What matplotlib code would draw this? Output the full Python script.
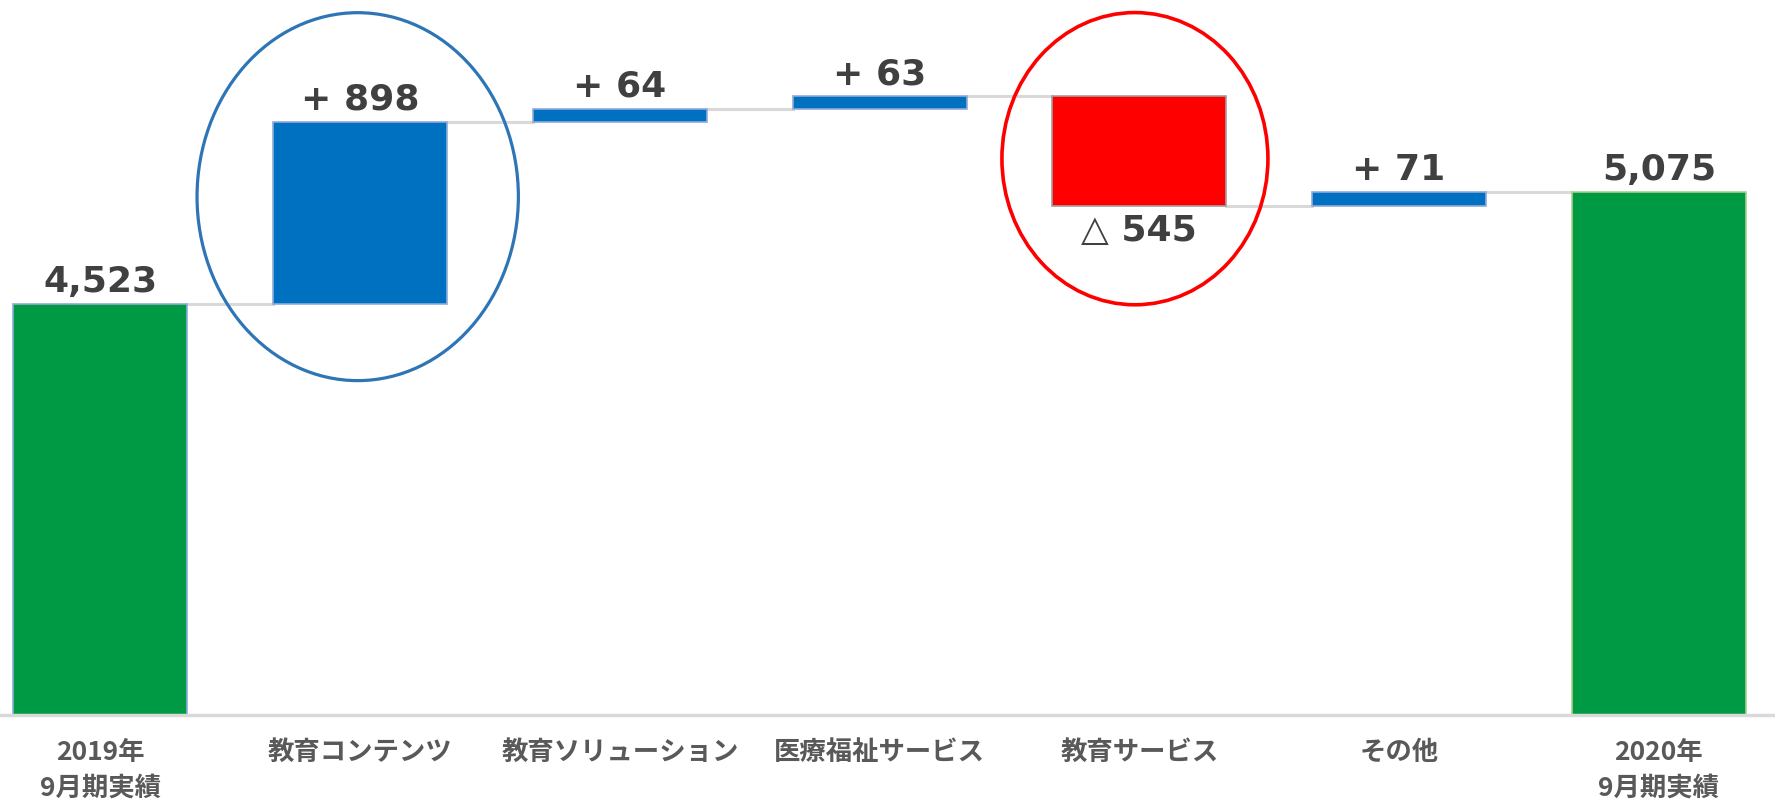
import matplotlib.pyplot as plt
from matplotlib.patches import Ellipse
import numpy as np

plt.rcParams['font.family'] = ['DejaVu Sans', 'Noto Sans CJK JP']

categories = ['2019年\n9月期実績', '教育コンテンツ', '教育ソリューション', '医療福祉サービス',
              '教育サービス', 'その他', '2020年\n9月期実績']
start_total = 4523
changes = [898, 64, 63, -545, 71]
end_total = 5075
value_labels = ['4,523', '+ 898', '+ 64', '+ 63', '△ 545', '+ 71', '5,075']

green = '#009A44'
blue = '#0070C0'
red = '#FF0000'

# build waterfall bottoms/heights
levels = np.cumsum([start_total] + changes)
bottoms = [0]
heights = [start_total]
colors = [green]
for i, c in enumerate(changes):
    lo = min(levels[i], levels[i + 1])
    bottoms.append(lo)
    heights.append(abs(c))
    colors.append(blue if c > 0 else red)
bottoms.append(0)
heights.append(end_total)
colors.append(green)
tops = [b + h for b, h in zip(bottoms, heights)]
ends = list(levels) + [end_total]

x = np.arange(len(categories))
w = 0.67

fig = plt.figure(figsize=(17.75, 8.04), dpi=100)
ax = fig.add_axes([0, 0.1099, 1, 0.89])

edges = ['#8FAADC'] * 6 + ['#A9D18E']
edges[4] = '#A0A0A0'
ax.bar(x, heights, w, bottom=bottoms, color=colors, edgecolor=edges, linewidth=1.2, zorder=3)

# connector lines
for i in range(len(x) - 1):
    ax.plot([x[i] + w / 2, x[i + 1] - w / 2], [ends[i], ends[i]], color='#D9D9D9', lw=2.2, zorder=2)

# value labels
for i, lab in enumerate(value_labels):
    if 0 < i < 6 and changes[i - 1] < 0:
        ax.annotate(lab, (x[i], bottoms[i]), xytext=(0, -5), textcoords='offset points',
                    ha='center', va='top', fontsize=26, fontweight='bold', color='#404040')
    else:
        ax.annotate(lab, (x[i], tops[i]), xytext=(0, 4), textcoords='offset points',
                    ha='center', va='bottom', fontsize=26, fontweight='bold', color='#404040')

# highlight ellipses
ax.add_patch(Ellipse((0.991, 5051), 1.237, 1812, fill=False, edgecolor='#2E75B6', lw=2.3, zorder=4, clip_on=False))
ax.add_patch(Ellipse((3.983, 5238), 1.024, 1439, fill=False, edgecolor=red, lw=2.6, zorder=4, clip_on=False))

ax.set_xlim(-0.386, 6.447)
ax.set_ylim(2500, 6024)
for s in ['top', 'right', 'left']:
    ax.spines[s].set_visible(False)
ax.spines['bottom'].set_color('#D9D9D9')
ax.spines['bottom'].set_linewidth(2.5)
ax.spines['bottom'].set_zorder(5)
ax.set_yticks([])
ax.set_xticks(x)
ax.set_xticklabels(categories, family=['Noto Sans CJK JP', 'DejaVu Sans'], fontsize=19,
                   fontweight='bold', color='#595959', linespacing=1.42)
ax.tick_params(axis='x', length=0, pad=17)

fig.savefig('out.png', dpi=100, facecolor='white')
